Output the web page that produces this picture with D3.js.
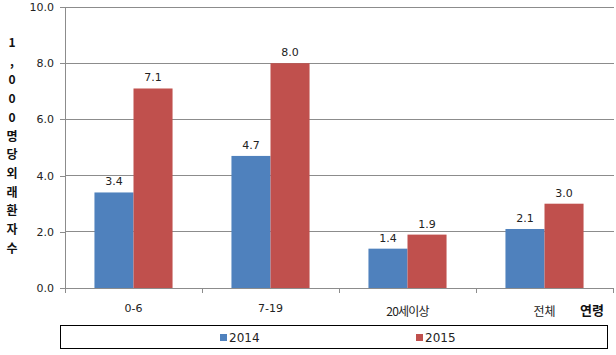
<!DOCTYPE html>
<html><head><meta charset="utf-8">
<script src="https://cdn.jsdelivr.net/npm/d3@7"></script>
<style>body{margin:0;background:#fff}svg{display:block;font-family:"Noto Sans CJK KR","DejaVu Sans",sans-serif}</style>
</head><body><svg id="c" width="616" height="355"></svg>
<script>
const categories = ["0-6", "7-19", "20세이상", "전체"];
const series = ["2014", "2015"];
const values2014 = [3.4, 4.7, 1.4, 2.1];
const values2015 = [7.1, 8.0, 1.9, 3.0];
const yTicks = [0, 2, 4, 6, 8, 10];
const colors = ["#4F81BD", "#C0504D"];
const yTitle = "1,000명당외래환자수";
const xTitle = "연령";

const svg = d3.select("#c");
const L = 65, R = 613, T = 7, B = 288;
const x = d3.scaleBand().domain(categories).range([L, R]).paddingInner(0).paddingOuter(0);
const y = d3.scaleLinear().domain([0, 10]).range([B, T]);
const bw = x.bandwidth();
const barW = bw * 0.285;
const x1 = d3.scaleBand().domain(series).range([bw/2 - barW, bw/2 + barW]);

// gridlines
svg.append("g").selectAll("line").data(yTicks.filter(d => d > 0)).join("line")
  .attr("x1", L).attr("x2", R + 1).attr("y1", d => y(d)).attr("y2", d => y(d))
  .attr("stroke", "#8c8c8c").attr("stroke-width", 1).attr("shape-rendering", "crispEdges");

// y axis
const ya = svg.append("g").attr("transform", `translate(${L},0)`)
  .call(d3.axisLeft(y).tickValues(yTicks).tickFormat(d3.format(".1f")).tickSize(5).tickPadding(6));
ya.selectAll("path,line").attr("stroke", "#8c8c8c").attr("shape-rendering", "crispEdges");
ya.select(".domain").attr("d", `M-0,${T}V${B}`);
ya.selectAll("text").attr("font-size", 11).attr("fill", "#222").attr("font-family", "DejaVu Sans, sans-serif");

// x axis
const xa = svg.append("g").attr("transform", `translate(0,${B})`);
xa.append("line").attr("x1", L).attr("x2", R).attr("y1", 0).attr("y2", 0).attr("stroke", "#8c8c8c").attr("shape-rendering", "crispEdges");
xa.selectAll("line.t").data(categories.concat(["end"])).join("line").attr("class","t")
  .attr("x1", (d,i) => L + i*bw).attr("x2", (d,i) => L + i*bw).attr("y1", 0).attr("y2", 5)
  .attr("stroke", "#8c8c8c").attr("shape-rendering", "crispEdges");

// bars
const vals = [values2014, values2015];
series.forEach((s, si) => {
  svg.append("g").selectAll("rect").data(categories).join("rect")
    .attr("x", c => x(c) + x1(s)).attr("width", x1.bandwidth())
    .attr("y", (c,i) => y(vals[si][i])).attr("height", (c,i) => B - y(vals[si][i]))
    .attr("fill", colors[si]);
  svg.append("g").selectAll("text").data(categories).join("text")
    .attr("x", c => x(c) + x1(s) + x1.bandwidth()/2)
    .attr("y", (c,i) => y(vals[si][i]) - 7)
    .attr("text-anchor", "middle").attr("font-size", 11).attr("fill", "#222")
    .attr("font-family", "DejaVu Sans, sans-serif")
    .text((c,i) => vals[si][i].toFixed(1));
});

// category labels
svg.append("g").selectAll("text").data(categories).join("text")
  .attr("x", c => x(c) + bw/2)
  .attr("y", (c,i) => i < 2 ? 312 : 316)
  .attr("text-anchor", "middle").attr("font-size", (c,i) => i < 2 ? 11 : 12).attr("fill", "#222")
  .attr("font-family", (c,i) => i < 2 ? "DejaVu Sans, sans-serif" : null)
  .attr("letter-spacing", (c,i) => i === 2 ? -0.8 : 0)
  .text(c => c);
svg.append("text").attr("x", 592).attr("y", 315).attr("text-anchor", "middle")
  .attr("font-size", 13).attr("font-weight", "bold").attr("fill", "#111").text(xTitle);

// vertical y title
svg.append("g").selectAll("text").data(Array.from(yTitle)).join("text")
  .attr("x", 12).attr("y", (d,i) => 47 + i*18.7)
  .attr("text-anchor", "middle").attr("font-size", 12).attr("font-weight", "bold").attr("fill", "#111")
  .text(d => d);

// legend
svg.append("rect").attr("x", 60.5).attr("y", 325.5).attr("width", 547).attr("height", 23)
  .attr("fill", "#fff").attr("stroke", "#000").attr("stroke-width", 1);
const legX = [220, 416];
series.forEach((s, si) => {
  svg.append("rect").attr("x", legX[si]).attr("y", 334).attr("width", 7).attr("height", 7).attr("fill", colors[si]);
  svg.append("text").attr("x", legX[si] + 9).attr("y", 342).attr("font-size", 12).attr("fill", "#222")
    .attr("font-family", "DejaVu Sans, sans-serif").text(s);
});
</script></body></html>
